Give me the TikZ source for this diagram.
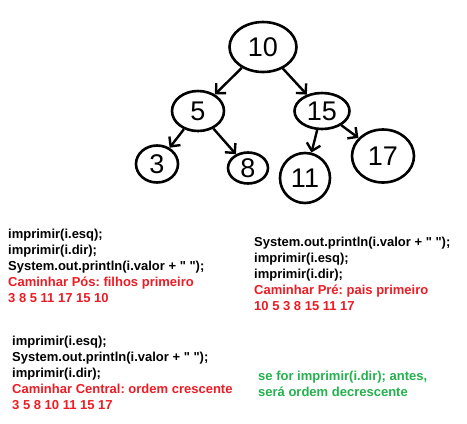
\documentclass[tikz,border=0pt]{standalone}
\usepackage{fontspec}
\setmainfont{Liberation Sans}
\usetikzlibrary{arrows.meta,shapes.geometric}
\definecolor{paintred}{RGB}{237,28,36}
\definecolor{paintgreen}{RGB}{34,177,76}
\newcommand{\aspas}{\textquotedbl}
\tikzset{
  treenode/.style={
    ellipse, draw=black, line width=2.6pt, inner sep=0pt,
    font=\fontsize{27}{27}\selectfont
  },
  arrow/.style={-{Straight Barb[length=7pt,width=14pt]}, line width=2.4pt, draw=black},
  codetext/.style={
    anchor=north west, align=left, inner sep=0pt,
    font=\bfseries\fontsize{13}{16}\selectfont\frenchspacing
  }
}

\begin{document}
\begin{tikzpicture}[x=1pt,y=-1pt]
  \useasboundingbox (0,0) rectangle (467,424);
  \node[treenode, minimum width=67pt, minimum height=50pt] (ten) at (263,47) {10};
  \node[treenode, minimum width=52pt, minimum height=40pt] (five) at (198,111) {5};
  \node[treenode, minimum width=55pt, minimum height=36pt] (fifteen) at (322,111) {15};
  \node[treenode, minimum width=42pt, minimum height=37pt] (three) at (157,164) {3};
  \node[treenode, minimum width=40pt, minimum height=31pt] (eight) at (248,168) {8};
  \node[treenode, minimum width=50pt, minimum height=50pt] (eleven) at (305,178) {11};
  \node[treenode, minimum width=62pt, minimum height=53pt] (seventeen) at (383,156) {17};

  \draw[arrow] (ten) -- (five);
  \draw[arrow] (ten) -- (fifteen);
  \draw[arrow] (five) -- (three);
  \draw[arrow] (five) -- (eight);
  \draw[arrow] (fifteen) -- (eleven);
  \draw[arrow] (fifteen) -- (seventeen);

  \node[codetext] (pos) at (8,229)
    {imprimir(i.esq);\\imprimir(i.dir);\\System.out.println(i.valor + \aspas{} \aspas);\\
     \textcolor{paintred}{Caminhar Pós: filhos primeiro}\\
     \textcolor{paintred}{3 8 5 11 17 15 10}};
  \node[codetext] (pre) at (254,237)
    {System.out.println(i.valor + \aspas{} \aspas);\\imprimir(i.esq);\\imprimir(i.dir);\\
     \textcolor{paintred}{Caminhar Pré: pais primeiro}\\
     \textcolor{paintred}{10 5 3 8 15 11 17}};
  \node[codetext] (central) at (12,336)
    {imprimir(i.esq);\\System.out.println(i.valor + \aspas{} \aspas);\\imprimir(i.dir);\\
     \textcolor{paintred}{Caminhar Central: ordem crescente}\\
     \textcolor{paintred}{3 5 8 10 11 15 17}};
  \node[codetext, text=paintgreen] (decresc) at (258,371)
    {se for imprimir(i.dir); antes,\\será ordem decrescente};
\end{tikzpicture}
\end{document}
